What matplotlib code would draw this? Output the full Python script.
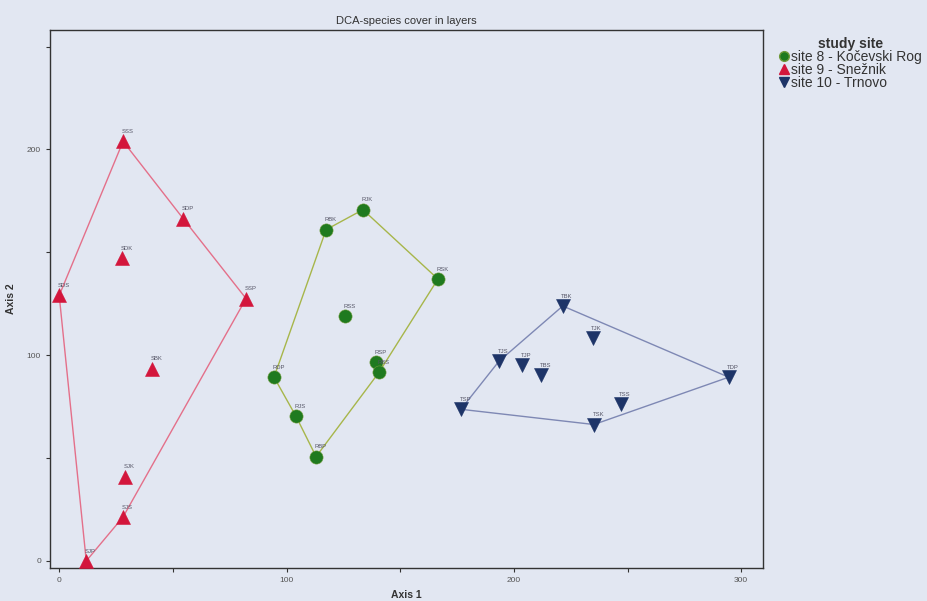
import matplotlib
matplotlib.use("Agg")
import matplotlib.pyplot as plt
from matplotlib.lines import Line2D

plt.rcParams['font.family'] = ['Liberation Sans', 'DejaVu Sans']

# Site 8 - Kočevski Rog
rog_labels = ["RJK", "RBK", "RSK", "RSS", "RSP", "RBS", "RDP", "RJS", "RBP"]
rog_x = [133.6, 117.4, 166.6, 125.7, 139.3, 140.7, 94.5, 104.2, 113.0]
rog_y = [170.7, 161.0, 137.0, 119.0, 96.6, 91.7, 89.3, 70.2, 50.7]
rog_hull = ["RDP", "RBK", "RJK", "RSK", "RBS", "RBP", "RJS", "RDP"]

# Site 9 - Snežnik
snez_labels = ["SSS", "SDP", "SDK", "SDS", "SSP", "SBK", "SJK", "SJS", "SJP"]
snez_x = [28.1, 54.5, 27.7, 0.0, 82.2, 40.9, 29.0, 28.1, 11.9]
snez_y = [203.9, 166.4, 147.0, 129.0, 127.5, 93.4, 40.9, 21.4, 0.0]
snez_hull = ["SJP", "SDS", "SSS", "SDP", "SSP", "SJS", "SJP"]

# Site 10 - Trnovo
trn_labels = ["TBK", "TJK", "TJS", "TJP", "TBS", "TDP", "TSS", "TSP", "TSK"]
trn_x = [221.5, 234.7, 193.4, 203.5, 211.9, 294.5, 247.0, 176.7, 235.2]
trn_y = [123.9, 108.3, 97.0, 95.1, 90.2, 89.3, 76.1, 73.7, 66.3]
trn_hull = ["TSP", "TJS", "TBK", "TDP", "TSK", "TSP"]

x_ticks = [0, 100, 200, 300]
y_ticks = [0, 100, 200]

bg = "#e2e7f2"
fig = plt.figure(figsize=(9.28, 6.01), dpi=100, facecolor=bg)
ax = fig.add_axes([0.054, 0.055, 0.768, 0.895], facecolor=bg)

groups = [
    (rog_labels, rog_x, rog_y, rog_hull, "o", "#1f7a1f", "#a7b64a", 9.5, "site 8 - Kočevski Rog"),
    (snez_labels, snez_x, snez_y, snez_hull, "^", "#d3163c", "#e4708a", 10, "site 9 - Snežnik"),
    (trn_labels, trn_x, trn_y, trn_hull, "v", "#1d3468", "#7e88b4", 10, "site 10 - Trnovo"),
]

handles = []
for labels, xs, ys, hull, marker, color, hull_color, ms, name in groups:
    idx = {lab: i for i, lab in enumerate(labels)}
    hx = [xs[idx[h]] for h in hull]
    hy = [ys[idx[h]] for h in hull]
    ax.plot(hx, hy, color=hull_color, lw=1.0, zorder=2)
    mec = "#6f9a3a" if marker == "o" else color
    ax.plot(xs, ys, linestyle="none", marker=marker, markersize=ms,
            markerfacecolor=color, markeredgecolor=mec, markeredgewidth=0.4, zorder=3)
    for lab, x, y in zip(labels, xs, ys):
        ax.annotate(lab, (x, y), xytext=(-1, 6), textcoords="offset points",
                    fontsize=4.2, color="#555566", zorder=4)
    handles.append(Line2D([], [], linestyle="none", marker=marker, markersize=7,
                          markerfacecolor=color, markeredgecolor=mec, label=name))

ax.set_xlim(-4, 309.5)
ax.set_ylim(-3.4, 258)
ax.set_xticks(x_ticks)
ax.set_xticks(range(0, 301, 50), minor=True)
ax.set_yticks(y_ticks)
ax.set_yticks(range(0, 251, 50), minor=True)
ax.tick_params(axis="both", which="both", direction="out", length=3, width=0.8,
               labelsize=6, labelcolor="#555555", color="#333333")
for s in ax.spines.values():
    s.set_linewidth(1.0)
    s.set_color("#333333")

ax.set_xlabel("Axis 1", fontsize=7.5, fontweight="bold", color="#333333", labelpad=4)
ax.set_ylabel("Axis 2", fontsize=7.5, fontweight="bold", color="#333333", labelpad=8)
ax.set_title("DCA-species cover in layers", fontsize=8, color="#333333", pad=4)

leg = fig.legend(handles=handles, title="study site", loc="upper left",
                 bbox_to_anchor=(0.834, 0.947), frameon=False, fontsize=10,
                 title_fontsize=10, handletextpad=0.15, borderaxespad=0,
                 labelspacing=-0.08, handlelength=0.7)
leg._legend_box.align = "center"
for t in leg.get_texts():
    t.set_color("#333333")
leg.get_title().set_color("#333333")
leg.get_title().set_fontweight("bold")

fig.savefig("out.png", dpi=100, facecolor=bg)
